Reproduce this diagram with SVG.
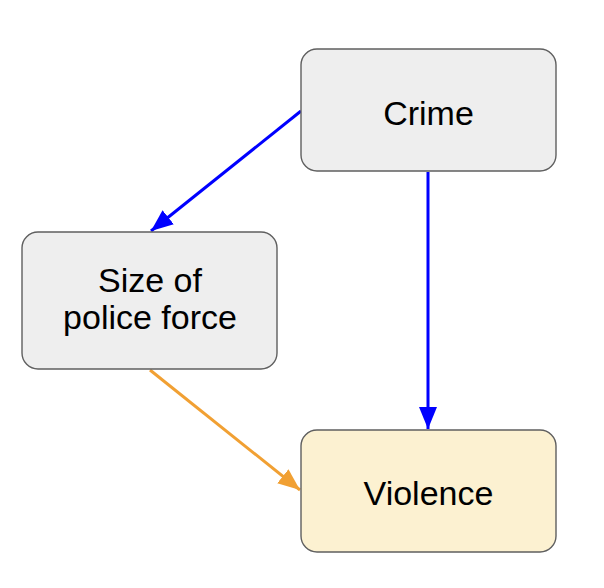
<svg xmlns="http://www.w3.org/2000/svg" width="604" height="588" viewBox="0 0 604 588">
<style>
.node{stroke:#5f5f5f;stroke-width:1.4}
.lbl{font-family:"Liberation Sans",Arial,sans-serif;font-size:34px;fill:#000;text-anchor:middle}
.edge{fill:none;stroke-width:3}
</style>
<defs>
<marker id="ab" viewBox="0 0 22 18" refX="22" refY="9" markerWidth="7.33" markerHeight="6" orient="auto" markerUnits="strokeWidth"><path d="M0,0L22,9L0,18z" fill="#0000ff"/></marker>
<marker id="ao" viewBox="0 0 22 18" refX="22" refY="9" markerWidth="7.33" markerHeight="6" orient="auto" markerUnits="strokeWidth"><path d="M0,0L22,9L0,18z" fill="#f1a033"/></marker>
</defs>
<rect width="604" height="588" fill="#fff"/>
<g id="connectors">
<line class="edge" x1="301" y1="111" x2="151" y2="231" stroke="#0000ff" marker-end="url(#ab)"/>
<line class="edge" x1="428" y1="172" x2="428" y2="429" stroke="#0000ff" marker-end="url(#ab)"/>
<line class="edge" x1="150" y1="370" x2="300" y2="490" stroke="#f1a033" marker-end="url(#ao)"/>
</g>
<g id="crime">
<rect class="node" x="301" y="49" width="255" height="122" rx="16" fill="#eeeeee"/>
<text class="lbl" x="428.5" y="125">Crime</text>
</g>
<g id="police">
<rect class="node" x="22" y="232" width="255" height="137" rx="16" fill="#eeeeee"/>
<text class="lbl" x="150" y="292">Size of</text>
<text class="lbl" x="150" y="329">police force</text>
</g>
<g id="violence">
<rect class="node" x="301" y="430" width="255" height="122" rx="16" fill="#fcf1d1"/>
<text class="lbl" x="428.5" y="505">Violence</text>
</g>
</svg>
